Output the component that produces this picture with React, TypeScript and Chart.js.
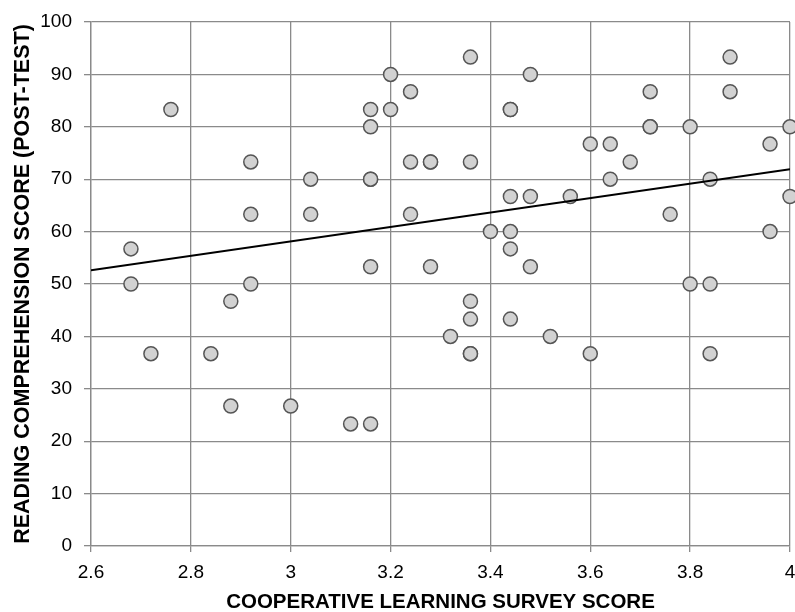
import React, { useEffect, useRef } from "react";
import { Chart, registerables } from "chart.js";

Chart.register(...registerables);

const surveyScores = [
  2.68, 2.68, 2.72, 2.76, 2.84, 2.88, 2.88, 2.92, 2.92, 2.92, 3.0, 3.04, 3.04, 3.12,
  3.16, 3.16, 3.16, 3.16, 3.16, 3.16, 3.2, 3.2, 3.24, 3.24, 3.24, 3.28, 3.28, 3.28,
  3.32, 3.36, 3.36, 3.36, 3.36, 3.36, 3.36, 3.4, 3.44, 3.44, 3.44, 3.44, 3.44, 3.44,
  3.48, 3.48, 3.48, 3.52, 3.56, 3.6, 3.6, 3.64, 3.64, 3.68, 3.72, 3.72, 3.72, 3.76,
  3.8, 3.8, 3.84, 3.84, 3.84, 3.88, 3.88, 3.96, 3.96, 4.0, 4.0,
];
const readingScores = [
  56.7, 50, 36.7, 83.3, 36.7, 46.7, 26.7, 73.3, 63.3, 50, 26.7, 70, 63.3, 23.3,
  83.3, 80, 70, 70, 53.3, 23.3, 90, 83.3, 86.7, 73.3, 63.3, 73.3, 73.3, 53.3,
  40, 93.3, 73.3, 46.7, 43.3, 36.7, 36.7, 60, 83.3, 83.3, 66.7, 60, 56.7, 43.3,
  90, 66.7, 53.3, 40, 66.7, 76.7, 36.7, 76.7, 70, 73.3, 86.7, 80, 80, 63.3,
  80, 50, 70, 50, 36.7, 93.3, 86.7, 76.7, 60, 80, 66.7,
];
const trendX = [2.6, 4.0];
const trendY = [52.6, 71.9];

const xTitle = "COOPERATIVE LEARNING SURVEY SCORE";
const yTitle = "READING COMPREHENSION SCORE (POST-TEST)";

export default function App() {
  const ref = useRef<HTMLCanvasElement | null>(null);
  useEffect(() => {
    if (!ref.current) return;
    const grid = "#8a8a8a";
    const chart = new Chart(ref.current, {
      type: "scatter",
      data: {
        datasets: [
          {
            label: "scores",
            data: surveyScores.map((x, i) => ({ x, y: readingScores[i] })),
            pointRadius: 7,
            pointBackgroundColor: "#d2d2d2",
            pointBorderColor: "#555555",
            pointBorderWidth: 1.5,
            showLine: false,
            clip: false,
            order: 2,
          },
          {
            label: "trend",
            data: trendX.map((x, i) => ({ x, y: trendY[i] })),
            showLine: true,
            borderColor: "#000000",
            borderWidth: 2,
            pointRadius: 0,
            order: 1,
          },
        ],
      },
      options: {
        responsive: false,
        animation: false,
        devicePixelRatio: 1,
        layout: { autoPadding: false, padding: { top: 22, right: 5, left: 0, bottom: 0 } },
        plugins: { legend: { display: false }, tooltip: { enabled: false } },
        scales: {
          x: {
            type: "linear",
            min: 2.6,
            max: 4.0,
            ticks: {
              stepSize: 0.2,
              color: "#000",
              padding: 9,
              font: { family: "Liberation Sans, Arial", size: 19 },
              callback: (v: any) => String(Math.round(Number(v) * 10) / 10),
            },
            grid: { color: grid, lineWidth: 1.3, tickLength: 6 },
            border: { color: grid, width: 1.3 },
            title: {
              display: true,
              text: xTitle,
              color: "#000",
              font: { family: "Liberation Sans, Arial", size: 20.5, weight: "bold" },
              padding: { top: 0, bottom: -3 },
            },
            afterFit: (s: any) => {
              s.height = 66;
              s.paddingRight = 0;
              s.paddingLeft = 0;
            },
          },
          y: {
            type: "linear",
            min: 0,
            max: 100,
            ticks: {
              stepSize: 10,
              color: "#000",
              padding: 12,
              font: { family: "Liberation Sans, Arial", size: 19 },
            },
            grid: { color: grid, lineWidth: 1.3, tickLength: 7 },
            border: { color: grid, width: 1.3 },
            title: {
              display: true,
              text: yTitle,
              color: "#000",
              font: { family: "Liberation Sans, Arial", size: 21.5, weight: "bold" },
              padding: { top: 10, bottom: 0 },
            },
            afterFit: (s: any) => {
              s.width = 91;
              s.paddingTop = 0;
              s.paddingBottom = 0;
            },
          },
        },
      },
    });
    return () => chart.destroy();
  }, []);
  return (
    <div style={{ position: "absolute", left: 0, top: 0, width: 795, height: 612, background: "#fff" }}>
      <canvas ref={ref} width={795} height={612} />
    </div>
  );
}
